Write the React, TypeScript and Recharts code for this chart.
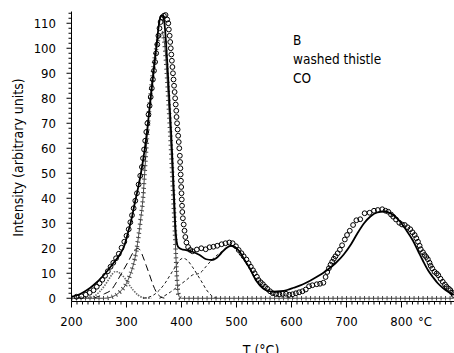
import React from 'react';
import { ComposedChart, Line, Scatter, XAxis, YAxis } from 'recharts';

// ---- data (T in °C, I in arbitrary units) ----
const measured: [number, number][] = [
  [209, 0.6], [218, 0.8], [226, 1.4], [233, 2.2], [240, 3.2], [246, 4.6], [251, 6], [256, 7.4],
  [261, 9], [266, 10.8], [271, 12.6], [276, 14.2], [281, 16], [286, 17.8], [291, 20.2], [296, 22.6],
  [300, 25], [304, 27.6], [307, 30.4], [310, 33.2], [313, 36], [316, 39], [319, 42], [322, 45.5],
  [325, 49], [328, 52.5], [330, 56], [332, 59.5], [334, 63], [336, 66.5], [338, 70], [340, 73.5],
  [342, 77], [344, 80.5], [346, 84], [348, 87.5], [350, 91], [352, 94.5], [354, 98], [356, 101.5],
  [358, 105], [360, 108], [362, 110.5], [365, 112.3], [368, 113], [371, 113.3], [374, 111.5],
  [376, 110], [377, 107.5], [378.5, 105], [379.5, 102.5], [380.5, 100], [381.5, 97.5], [382.5, 95],
  [383.5, 92.5], [384.5, 90], [385.5, 87.5], [386.5, 85], [387.5, 82.5], [388.5, 80], [389.5, 77.5],
  [390.5, 75], [391, 72.5], [392, 70], [393, 67.5], [394, 65], [395, 62.5], [396, 60], [397, 57],
  [397.5, 54.5], [398, 52], [398.5, 49.5], [399, 47], [399.5, 44.5], [400, 42], [400.5, 39.5],
  [401, 37], [401.5, 34.5], [402.5, 32], [404, 29.5], [405.5, 27], [407, 24.5], [409, 22.3],
  [412, 20.5], [416, 19.3], [420, 18.8], [428, 19.5], [436, 20], [444, 19.6], [451, 20.4],
  [458, 20.6], [465, 21], [473, 21.6], [480, 22], [487, 22.3], [493, 22], [499, 20.8], [504, 19.3],
  [509, 18], [513, 16.8], [518, 15.5], [522, 14], [526, 12.6], [530, 11.2], [533, 10], [537, 8.6],
  [540, 7.3], [544, 6.4], [548, 5.6], [552, 4.6], [556, 3.8], [561, 2.8], [566, 2], [572, 1.7],
  [578, 1.6], [584, 1.8], [590, 1.8], [596, 1.4], [602, 1.6], [608, 2], [614, 2.4], [620, 2.8],
  [626, 3.5], [632, 4.8], [638, 5.2], [646, 5.6], [652, 5.8], [658, 6.2], [662, 8.5], [665, 10.5],
  [668, 12], [671, 13.4], [674, 14.6], [677, 15.8], [680, 16.8], [684, 18], [688, 19.4], [692, 21.2],
  [697, 23.5], [701, 25.3], [706, 27], [712, 29.3], [718, 31.2], [725, 31.6], [733, 34], [742, 34.2],
  [750, 35], [757, 35.3], [765, 35.6], [771, 35], [776, 34.6], [781, 33.5], [785, 32.6], [790, 31.5],
  [796, 30.2], [801, 29.5], [806, 29.3], [811, 28.4], [816, 27.6], [820, 26.4], [824, 25.3],
  [827, 24], [830, 22.6], [833, 21], [835, 19.6], [839, 18.4], [842, 17.3], [845, 16.5], [848, 15.6],
  [851, 14.2], [853, 13], [856, 11.9], [860, 10.6], [864, 9.9], [867, 9.2], [871, 7.8], [875, 6.6],
  [879, 5.5], [882, 4.6], [886, 3.8], [889, 3.2], [892, 2.2], [895, 1.3],
];

const fitCurve: [number, number][] = [
  [200, 0.6], [210, 1.2], [220, 2.2], [233, 4], [245, 6.2], [255, 8.4], [264, 10.6], [276, 14],
  [288, 17.5], [296, 21], [303, 26.5], [310, 32.5], [315, 38], [320, 43], [325, 48.5], [330, 55],
  [334, 61], [338, 68], [342, 76], [346, 84], [350, 92], [354, 100], [357, 106], [360, 111],
  [363, 113], [366, 113], [369, 110], [372, 102], [375, 91], [378, 79], [381, 67], [384, 53],
  [387, 38], [389, 28], [391, 23], [394, 20.5], [400, 19.6], [410, 19.2], [420, 18.6], [433, 17.3],
  [445, 15.6], [455, 15.3], [463, 16], [472, 18], [481, 20], [490, 21], [498, 20.3], [506, 18.5],
  [514, 15.5], [524, 12], [536, 7], [548, 4], [558, 2.9], [568, 2.6], [580, 2.8], [592, 3.3],
  [604, 4.2], [620, 5.5], [640, 7.8], [660, 10.5], [680, 14], [695, 17.5], [708, 21.5], [720, 26],
  [732, 30], [744, 32.8], [756, 34.3], [768, 34.7], [778, 34.2], [788, 32.8], [798, 30.5],
  [808, 27.5], [821, 23], [830, 19], [839, 15], [848, 11.3], [857, 8.5], [866, 6], [876, 4],
  [886, 2.4], [895, 1.4],
];

const peakA: [number, number][] = [
  [200, 0], [230, 0.2], [240, 0.7], [251, 2.6], [261, 5.3], [267, 7.3], [273, 9.3], [279, 10.6],
  [284, 10.6], [290, 9.6], [297, 8], [303, 6], [312, 3.3], [321, 1.3], [330, 0.3], [345, 0],
];

const peakB: [number, number][] = [
  [240, 0], [250, 0.8], [260, 1.8], [273, 3.5], [282, 6.5], [291, 10], [303, 14.6], [312, 18.3],
  [319, 20], [324, 19.5], [330, 16.6], [336, 13], [342, 9.3], [348, 5.5], [355, 2.2], [362, 0.6],
  [370, 0],
];

const peakC: [number, number][] = [
  [200, 0], [260, 0], [270, 0.3], [280, 1.2], [290, 3], [300, 6], [306, 9], [312, 13], [318, 19],
  [322, 25], [326, 32], [330, 40], [333, 50], [336, 60], [340, 72], [345, 84], [350, 94], [355, 101],
  [360, 105], [364, 106], [367, 105], [370, 100], [373, 91], [376, 80], [379, 68], [382, 55],
  [385, 41], [388, 27], [390, 16], [392, 7], [394, 2], [397, 0.3], [400, 0], [895, 0],
];

const peakD: [number, number][] = [
  [330, 0], [340, 0.4], [350, 1.4], [360, 3.3], [370, 6], [380, 9.5], [390, 13], [397, 15.3],
  [403, 16], [410, 15.3], [420, 12.5], [430, 9], [437, 6.5], [445, 3.5], [455, 1], [465, 0],
];

const peakE: [number, number][] = [
  [360, 0], [366, 0.6], [380, 2.5], [395, 5], [410, 7.5], [420, 9.3], [433, 10], [445, 12.8],
  [455, 15.3], [465, 17.3], [475, 19], [485, 20.5], [492, 21], [500, 20.3], [508, 18], [516, 15],
  [524, 12], [536, 7], [548, 4], [560, 2.2], [575, 0.9], [590, 0.3], [605, 0],
];

const xMajorTicks = [200, 300, 400, 500, 600, 700, 800];
const yMajorTicks = [0, 10, 20, 30, 40, 50, 60, 70, 80, 90, 100, 110];
const xMinorStep = 10;
const yMinorStep = 2;
const xTicks = Array.from({ length: 70 }, (_, i) => 200 + i * xMinorStep);
const yTicks = Array.from({ length: 58 }, (_, i) => i * yMinorStep);

const annotation = ['B', 'washed thistle', 'CO'];
const xTitle = 'T (°C)';
const yTitle = 'Intensity (arbitrary units)';
const unitSuffix = '°C';

const toPts = (arr: [number, number][]) => arr.map(([T, I]) => ({ T, I }));

const FONT = "'DejaVu Sans Condensed', 'DejaVu Sans', sans-serif";

const XTick = (props: any) => {
  const { x, y, payload } = props;
  const v = payload.value as number;
  const major = xMajorTicks.includes(v);
  return (
    <g>
      <line x1={x} x2={x} y1={y} y2={y + (major ? 6 : 3)} stroke="#000" strokeWidth={1} />
      {major && (
        <text x={x} y={y + 24.5} textAnchor="middle" fontFamily={FONT} fontSize={13} fill="#000" style={{ fontStretch: 'condensed' }}>
          {v}
        </text>
      )}
      {v === 800 && (
        <text x={x + 16.5} y={y + 24.5} textAnchor="start" fontFamily={FONT} fontSize={13} fill="#000" style={{ fontStretch: 'condensed' }}>
          {unitSuffix}
        </text>
      )}
    </g>
  );
};

const YTick = (props: any) => {
  const { x, y, payload } = props;
  const v = payload.value as number;
  const major = yMajorTicks.includes(v);
  return (
    <g>
      <line x1={x} x2={x - (major ? 5 : 3)} y1={y} y2={y} stroke="#000" strokeWidth={1} />
      {major && (
        <text x={x - 15.5} y={y} dy="0.36em" textAnchor="end" fontFamily={FONT} fontSize={13} fill="#000" style={{ fontStretch: 'condensed' }}>
          {v}
        </text>
      )}
    </g>
  );
};

const Circle = (props: any) => {
  const { cx, cy } = props;
  if (cx == null || cy == null) return null;
  return <circle cx={cx} cy={cy} r={2.4} fill="none" stroke="#000" strokeWidth={1} />;
};

export default function App() {
  return (
    <div style={{ position: 'absolute', left: 0, top: 0, width: 454, height: 353, background: '#fff', overflow: 'hidden' }}>
      <ComposedChart width={454} height={353} margin={{ top: 11.5, right: 0, bottom: 0, left: 0 }}>
        <XAxis
          dataKey="T"
          type="number"
          domain={[200, 895.5]}
          allowDataOverflow
          ticks={xTicks}
          interval={0}
          tickSize={0}
          tickMargin={0}
          tickLine={false}
          tick={XTick}
          height={51.5}
          axisLine={{ stroke: '#000', strokeWidth: 1 }}
        />
        <YAxis
          dataKey="I"
          type="number"
          domain={[-1.3, 114.7]}
          allowDataOverflow
          ticks={yTicks}
          interval={0}
          tickSize={0}
          tickMargin={0}
          tickLine={false}
          tick={YTick}
          width={71.5}
          axisLine={{ stroke: '#000', strokeWidth: 1 }}
        />
        <Line data={toPts(peakA)} dataKey="I" type="monotone" stroke="#6a6a6a" strokeWidth={1.6} strokeDasharray="1.5 1.2" dot={false} isAnimationActive={false} />
        <Line data={toPts(peakB)} dataKey="I" type="monotone" stroke="#000" strokeWidth={1} strokeDasharray="7 4" dot={false} isAnimationActive={false} />
        <Line data={toPts(peakD)} dataKey="I" type="monotone" stroke="#000" strokeWidth={0.9} strokeDasharray="3 2.5" dot={false} isAnimationActive={false} />
        <Line data={toPts(peakE)} dataKey="I" type="monotone" stroke="#000" strokeWidth={0.9} strokeDasharray="3 2.5" dot={false} isAnimationActive={false} />
        <Line data={toPts(peakC)} dataKey="I" type="monotone" stroke="#444" strokeWidth={1} dot={false} isAnimationActive={false} />
        <Line data={toPts(peakC)} dataKey="I" type="monotone" stroke="#444" strokeWidth={4.5} strokeDasharray="1 3.5" dot={false} isAnimationActive={false} />
        <Line data={toPts(fitCurve)} dataKey="I" type="monotone" stroke="#000" strokeWidth={1.8} dot={false} isAnimationActive={false} />
        <Scatter data={toPts(measured)} dataKey="I" shape={Circle} isAnimationActive={false} />
      </ComposedChart>
      <svg width={454} height={353} style={{ position: 'absolute', left: 0, top: 0, pointerEvents: 'none' }}>
        <g fontFamily={FONT} fontSize={13.5} fill="#000" style={{ fontStretch: 'condensed' }}>
          {annotation.map((t, i) => (
            <text key={t} x={293} y={45 + i * 19.2}>{t}</text>
          ))}
        </g>
        <text x={261} y={355} textAnchor="middle" fontFamily={FONT} fontSize={14} fill="#000" style={{ fontStretch: 'condensed' }}>
          {xTitle}
        </text>
        <text x={22.7} y={157.5} transform="rotate(-90 22.7 157.5)" textAnchor="middle" fontFamily={FONT} fontSize={14} fill="#000" style={{ fontStretch: 'condensed' }}>
          {yTitle}
        </text>
      </svg>
    </div>
  );
}
